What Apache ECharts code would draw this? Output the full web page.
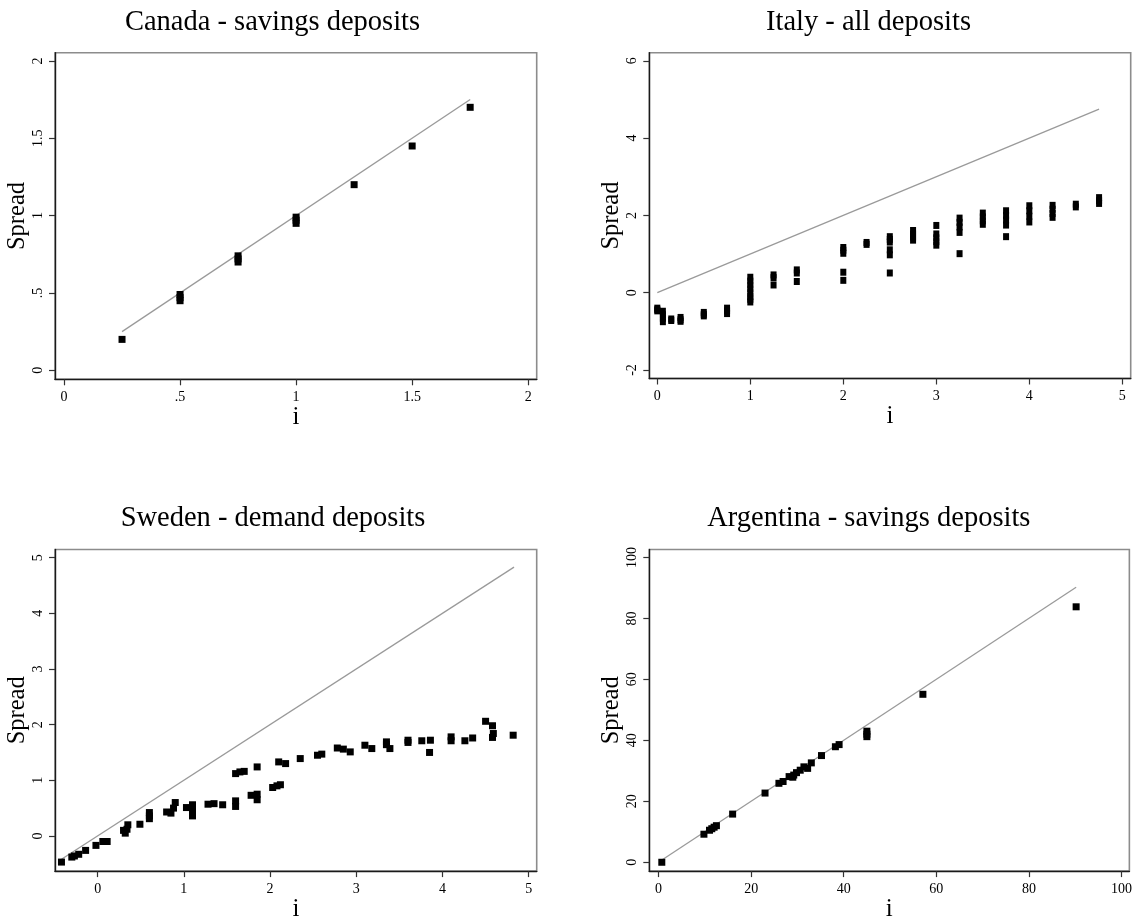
<!DOCTYPE html>
<html>
<head>
<meta charset="utf-8">
<script src="https://cdn.jsdelivr.net/npm/echarts@6/dist/echarts.min.js"></script>
<style>
html,body{margin:0;padding:0;background:#fff;}
#c{width:1135px;height:923px;}
</style>
</head>
<body>
<div id="c"></div>
<script>
// ---------- data ----------
const titles = ["Canada - savings deposits", "Italy - all deposits", "Sweden - demand deposits", "Argentina - savings deposits"];

const canadaPts = [[0.25,0.20],[0.5,0.45],[0.5,0.47],[0.5,0.49],[0.75,0.70],[0.75,0.72],[0.75,0.74],
  [1,0.95],[1,0.97],[1,0.99],[1.25,1.20],[1.5,1.45],[1.75,1.70]];
const canadaLine = [[0.25,0.25],[1.75,1.75]];
const canadaXTicks = [0,0.5,1,1.5,2];
const canadaYTicks = [0,0.5,1,1.5,2];

const italyPts = [
  [0,-0.40],[0,-0.44],[0,-0.47],
  [0.06,-0.48],[0.06,-0.57],[0.06,-0.66],[0.06,-0.75],
  [0.15,-0.68],[0.15,-0.72],
  [0.25,-0.64],[0.25,-0.70],[0.25,-0.74],
  [0.5,-0.51],[0.5,-0.56],[0.5,-0.60],
  [0.75,-0.40],[0.75,-0.47],[0.75,-0.54],
  [1,0.40],[1,0.30],[1,0.20],[1,0.10],[1,0.0],[1,-0.10],[1,-0.17],[1,-0.24],
  [1.25,0.46],[1.25,0.39],[1.25,0.20],
  [1.5,0.59],[1.5,0.51],[1.5,0.29],
  [2,1.17],[2,1.10],[2,1.02],[2,0.53],[2,0.32],
  [2.25,1.30],[2.25,1.25],
  [2.5,1.45],[2.5,1.38],[2.5,1.31],[2.5,1.11],[2.5,0.98],[2.5,0.51],
  [2.75,1.61],[2.75,1.52],[2.75,1.44],[2.75,1.36],
  [3,1.74],[3,1.52],[3,1.42],[3,1.32],[3,1.23],
  [3.25,1.93],[3.25,1.82],[3.25,1.70],[3.25,1.56],[3.25,1.01],
  [3.5,2.06],[3.5,1.96],[3.5,1.86],[3.5,1.77],
  [3.75,2.12],[3.75,2.00],[3.75,1.88],[3.75,1.75],[3.75,1.45],
  [4,2.25],[4,2.12],[4,1.98],[4,1.83],
  [4.25,2.26],[4.25,2.16],[4.25,2.05],[4.25,1.95],
  [4.5,2.29],[4.5,2.22],
  [4.75,2.46],[4.75,2.38],[4.75,2.31]
];
const italyLine = [[0,0],[4.75,4.75]];
const italyXTicks = [0,1,2,3,4,5];
const italyYTicks = [-2,0,2,4,6];

const swedenPts = [
  [-0.42,-0.47],[-0.30,-0.38],[-0.27,-0.36],[-0.22,-0.33],[-0.14,-0.26],[-0.02,-0.17],
  [0.06,-0.10],[0.11,-0.10],
  [0.30,0.10],[0.32,0.05],[0.34,0.12],[0.35,0.20],
  [0.49,0.21],[0.60,0.42],[0.60,0.36],[0.60,0.31],
  [0.80,0.43],[0.85,0.41],[0.88,0.50],[0.90,0.60],
  [1.03,0.51],[1.10,0.56],[1.10,0.46],[1.10,0.36],
  [1.28,0.57],[1.35,0.58],[1.45,0.56],
  [1.60,0.63],[1.60,0.53],[1.60,1.12],[1.65,1.15],[1.70,1.16],
  [1.78,0.73],[1.85,0.75],[1.85,0.65],[1.85,1.24],
  [2.03,0.87],[2.08,0.90],[2.12,0.92],[2.10,1.33],[2.18,1.30],
  [2.35,1.39],[2.55,1.45],[2.60,1.47],[2.78,1.58],[2.85,1.56],[2.93,1.51],
  [3.10,1.63],[3.18,1.57],[3.35,1.69],[3.35,1.64],[3.39,1.57],
  [3.60,1.72],[3.60,1.68],[3.76,1.71],[3.86,1.72],[3.85,1.50],
  [4.10,1.78],[4.10,1.71],[4.26,1.71],[4.35,1.76],
  [4.50,2.06],[4.58,1.98],[4.59,1.84],[4.58,1.77],[4.82,1.81]
];
const swedenLine = [[-0.42,-0.42],[4.83,4.83]];
const swedenXTicks = [0,1,2,3,4,5];
const swedenYTicks = [0,1,2,3,4,5];

const argentinaPts = [
  [0.7,0.0],[9.8,9.2],[11,10.5],[11.5,11],[12,11.5],[12.5,12],[16.0,15.8],[23.0,22.7],
  [26.0,25.9],[26.9,26.5],[28.2,28.1],[29.0,27.9],[29.2,28.6],[29.8,29.4],[30.6,30.2],
  [31.4,31.3],[32.2,30.8],[33.0,32.6],[35.2,35.0],[38.2,37.9],[39.0,38.6],
  [45,43.0],[45,42.0],[45,41.2],[57.1,55.1],[90.2,83.8]
];
const argentinaLine = [[0.8,0.8],[90.2,90.2]];
const argentinaXTicks = [0,20,40,60,80,100];
const argentinaYTicks = [0,20,40,60,80,100];

// ---------- layout ----------
const SERIF = "Liberation Serif";
const panels = [
  {pts: canadaPts, line: canadaLine, xt: canadaXTicks, yt: canadaYTicks,
   grid: {left: 55, top: 52.7, width: 481.7, height: 326.6},
   xr: [-0.0388, 2.0366], yr: [-0.058, 2.053], title: [267.5, 3.5], sym: [7,7]},
  {pts: italyPts, line: italyLine, xt: italyXTicks, yt: italyYTicks,
   grid: {left: 649.3, top: 52.7, width: 481.4, height: 325.8},
   xr: [-0.086, 5.09], yr: [-2.22, 6.21], title: [863.5, 3.5], sym: [6,7]},
  {pts: swedenPts, line: swedenLine, xt: swedenXTicks, yt: swedenYTicks,
   grid: {left: 55, top: 549.5, width: 481.7, height: 326.5},
   xr: [-0.495, 5.093], yr: [-0.632, 5.147], title: [268, 499.5], sym: [7,7]},
  {pts: argentinaPts, line: argentinaLine, xt: argentinaXTicks, yt: argentinaYTicks,
   grid: {left: 649.3, top: 549.5, width: 480.7, height: 326.5},
   xr: [-2.0, 101.7], yr: [-2.9, 102.6], title: [863.8, 499.5], sym: [7,7]}
];

function fmt(v){
  let s = String(Math.round(v*1000)/1000);
  if (s.startsWith("0.")) s = s.slice(1);
  if (s.startsWith("-0.")) s = "-" + s.slice(2);
  return s;
}

const grids = [], xAxes = [], yAxes = [], series = [], titleOpts = [];
panels.forEach((p, i) => {
  grids.push(Object.assign({show: true, borderColor: "#8c8c8c", borderWidth: 1.6, backgroundColor: "#fff"}, p.grid));
  titleOpts.push({text: titles[i], left: p.title[0], top: p.title[1], textAlign: "center",
    textStyle: {fontFamily: SERIF, fontSize: 28.5, fontWeight: "normal", color: "#000"}});
  xAxes.push({
    gridIndex: i, type: "value", min: p.xr[0], max: p.xr[1],
    name: "i", nameLocation: "middle", nameGap: 25,
    nameTextStyle: {fontFamily: SERIF, fontSize: 25, color: "#000"},
    axisLine: {show: true, onZero: false, lineStyle: {color: "#1a1a1a", width: 1.4}},
    axisTick: {show: true, length: 6, customValues: p.xt, lineStyle: {color: "#333", width: 1.2}},
    axisLabel: {customValues: p.xt, formatter: fmt, margin: 11, fontFamily: SERIF, fontSize: 14, color: "#000"},
    splitLine: {show: false}
  });
  yAxes.push({
    gridIndex: i, type: "value", min: p.yr[0], max: p.yr[1],
    name: "Spread", nameLocation: "middle", nameGap: 22, nameRotate: 90,
    nameTextStyle: {fontFamily: SERIF, fontSize: 24.5, color: "#000"},
    axisLine: {show: true, onZero: false, lineStyle: {color: "#1a1a1a", width: 1.4}},
    axisTick: {show: true, length: 6, customValues: p.yt, lineStyle: {color: "#333", width: 1.2}},
    axisLabel: {customValues: p.yt, formatter: fmt, rotate: 90, margin: 10, fontFamily: SERIF, fontSize: 14, color: "#000"},
    splitLine: {show: false}
  });
  series.push({
    type: "line", xAxisIndex: i, yAxisIndex: i, data: p.line, symbol: "none",
    lineStyle: {color: "#9a9a9a", width: 1.3}, silent: true, z: 2
  });
  series.push({
    type: "scatter", xAxisIndex: i, yAxisIndex: i, data: p.pts, symbol: "rect",
    symbolSize: p.sym, itemStyle: {color: "#000", opacity: 1}, silent: true, z: 3
  });
});

const chart = echarts.init(document.getElementById("c"), null, {renderer: "canvas"});
chart.setOption({
  backgroundColor: "#fff",
  animation: false,
  title: titleOpts,
  grid: grids,
  xAxis: xAxes,
  yAxis: yAxes,
  series: series
});
</script>
</body>
</html>
